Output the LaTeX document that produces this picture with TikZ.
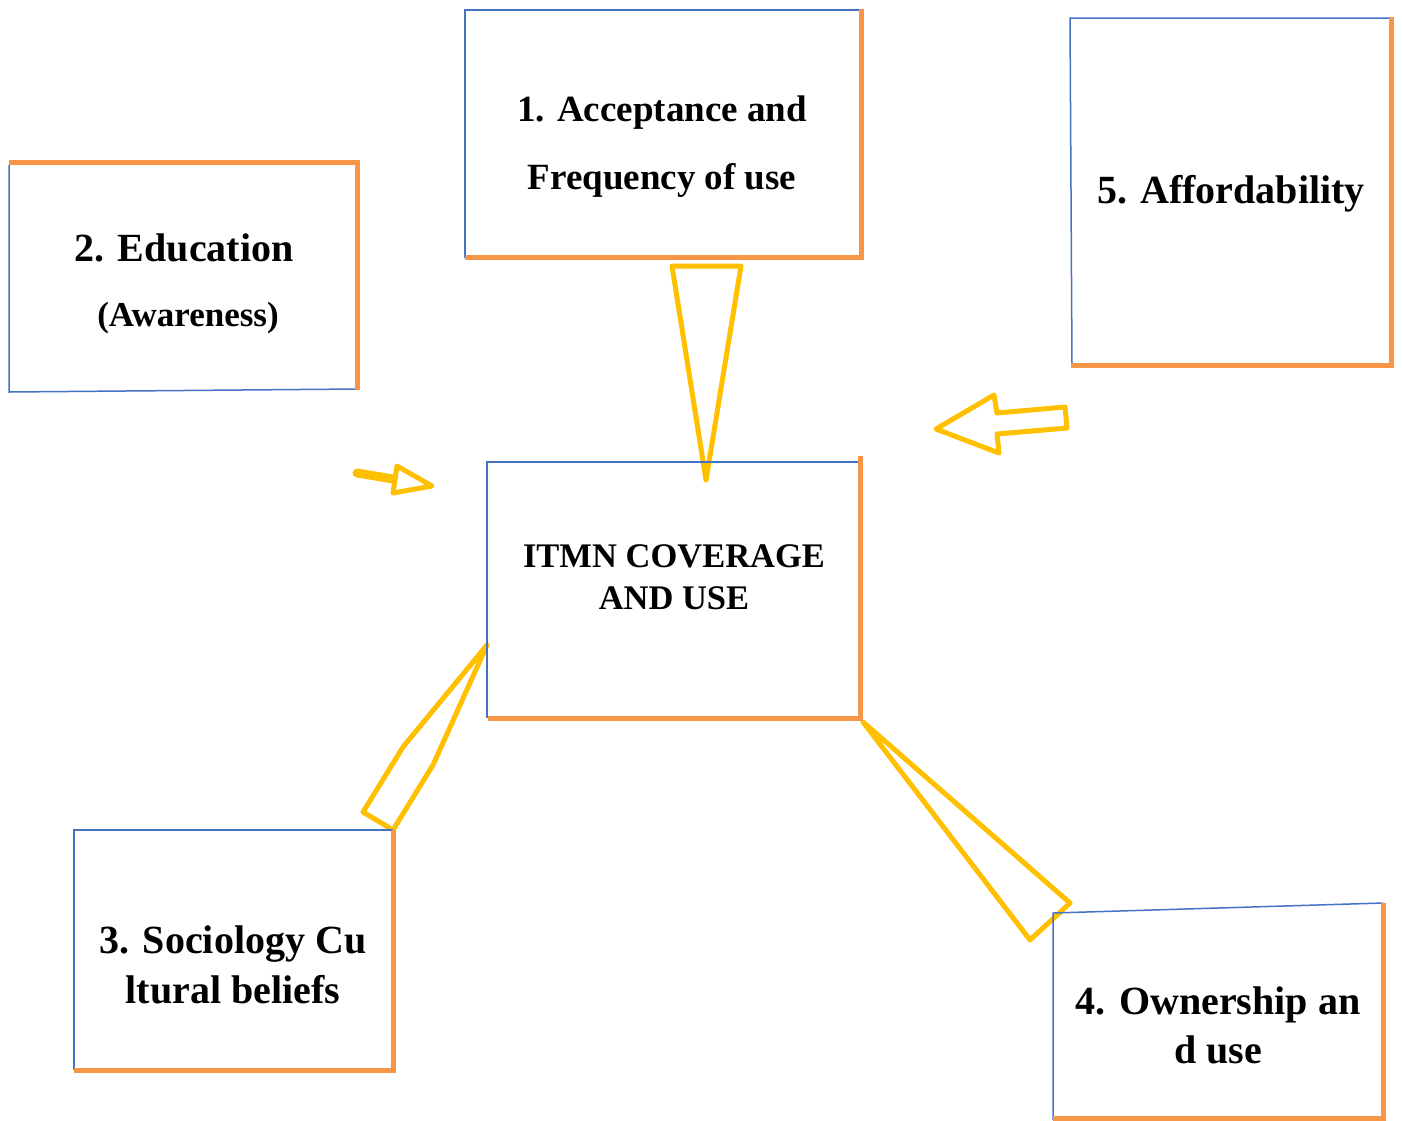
\documentclass[tikz,border=0pt]{standalone}
\usepackage{fontspec}
\setmainfont{Liberation Serif}
\usetikzlibrary{positioning}
\definecolor{boxblue}{RGB}{68,114,196}
\definecolor{boxorange}{RGB}{247,150,70}
\definecolor{arrowgold}{RGB}{255,192,0}

\begin{document}
\begin{tikzpicture}[x=1pt,y=-1pt,
  blueedge/.style={boxblue, line width=1.5pt},
  orangeedge/.style={boxorange, line width=5pt},
  goldarrow/.style={arrowgold, line width=5pt, line join=round, line cap=round},
  lbl/.style={align=center, inner sep=0pt}]
  \fill[white] (0,0) rectangle (1402,1120);
  \useasboundingbox (0,0) rectangle (1402,1120);

  % yellow block arrows
  \draw[goldarrow] (672,266) -- (741,266) -- (706,480) -- cycle;
  \draw[arrowgold, line width=9pt, line cap=round] (357,473) -- (393,479);
  \draw[goldarrow] (397,466) -- (432,486) -- (393,493) -- cycle;
  \draw[goldarrow] (936,429) -- (994,395) -- (997,413) -- (1065,407)
    -- (1067,428) -- (997,434) -- (999,453) -- cycle;
  \draw[goldarrow] (487,645) -- (403,747) -- (363,812) -- (393,830) -- (433,765) -- cycle;
  \draw[goldarrow] (863,722) -- (1070,903) -- (1030,940) -- cycle;

  % boxes
  \draw[blueedge] (465,258) -- (465,10) -- (861,10);
  \draw[orangeedge] (861,9) -- (861,257) -- (465,257);
  \draw[blueedge] (9,165) -- (9,392) -- (357,389);
  \draw[orangeedge] (9,162) -- (357,162) -- (357,390);
  \draw[blueedge] (1072,365) -- (1070,18) -- (1391,18);
  \draw[orangeedge] (1391,17) -- (1391,365) -- (1071,365);
  \draw[blueedge] (487,718) -- (487,462) -- (860,462);
  \draw[orangeedge] (860,456) -- (860,718) -- (488,718);
  \draw[blueedge] (74,1070) -- (74,830) -- (393,830);
  \draw[orangeedge] (393,830) -- (393,1070) -- (74,1070);
  \draw[blueedge] (1053,1120) -- (1053,913) -- (1383,903);
  \draw[orangeedge] (1383,903) -- (1383,1118) -- (1053,1118);

  % labels
  \node[lbl, font=\bfseries\fontsize{37}{68}\selectfont] (accept) at (662,147)
    {1. Acceptance and\\Frequency of use};
  \node[lbl, font=\bfseries\fontsize{40}{48}\selectfont] (edu) at (184,248) {2. Education};
  \node[lbl, font=\bfseries\fontsize{35}{40}\selectfont] (aware) at (188,318) {(Awareness)};
  \node[lbl, font=\bfseries\fontsize{40}{48}\selectfont] (afford) at (1231,194) {5. Affordability};
  \node[lbl, font=\bfseries\fontsize{34.5}{42}\selectfont] (itmn) at (674,577)
    {ITMN COVERAGE\\AND USE};
  \node[lbl, font=\bfseries\fontsize{40}{50}\selectfont] (socio) at (233,965)
    {3. Sociology Cu\\ltural beliefs};
  \node[lbl, font=\bfseries\fontsize{40}{49}\selectfont] (own) at (1218,1025)
    {4. Ownership an\\d use};
\end{tikzpicture}
\end{document}
